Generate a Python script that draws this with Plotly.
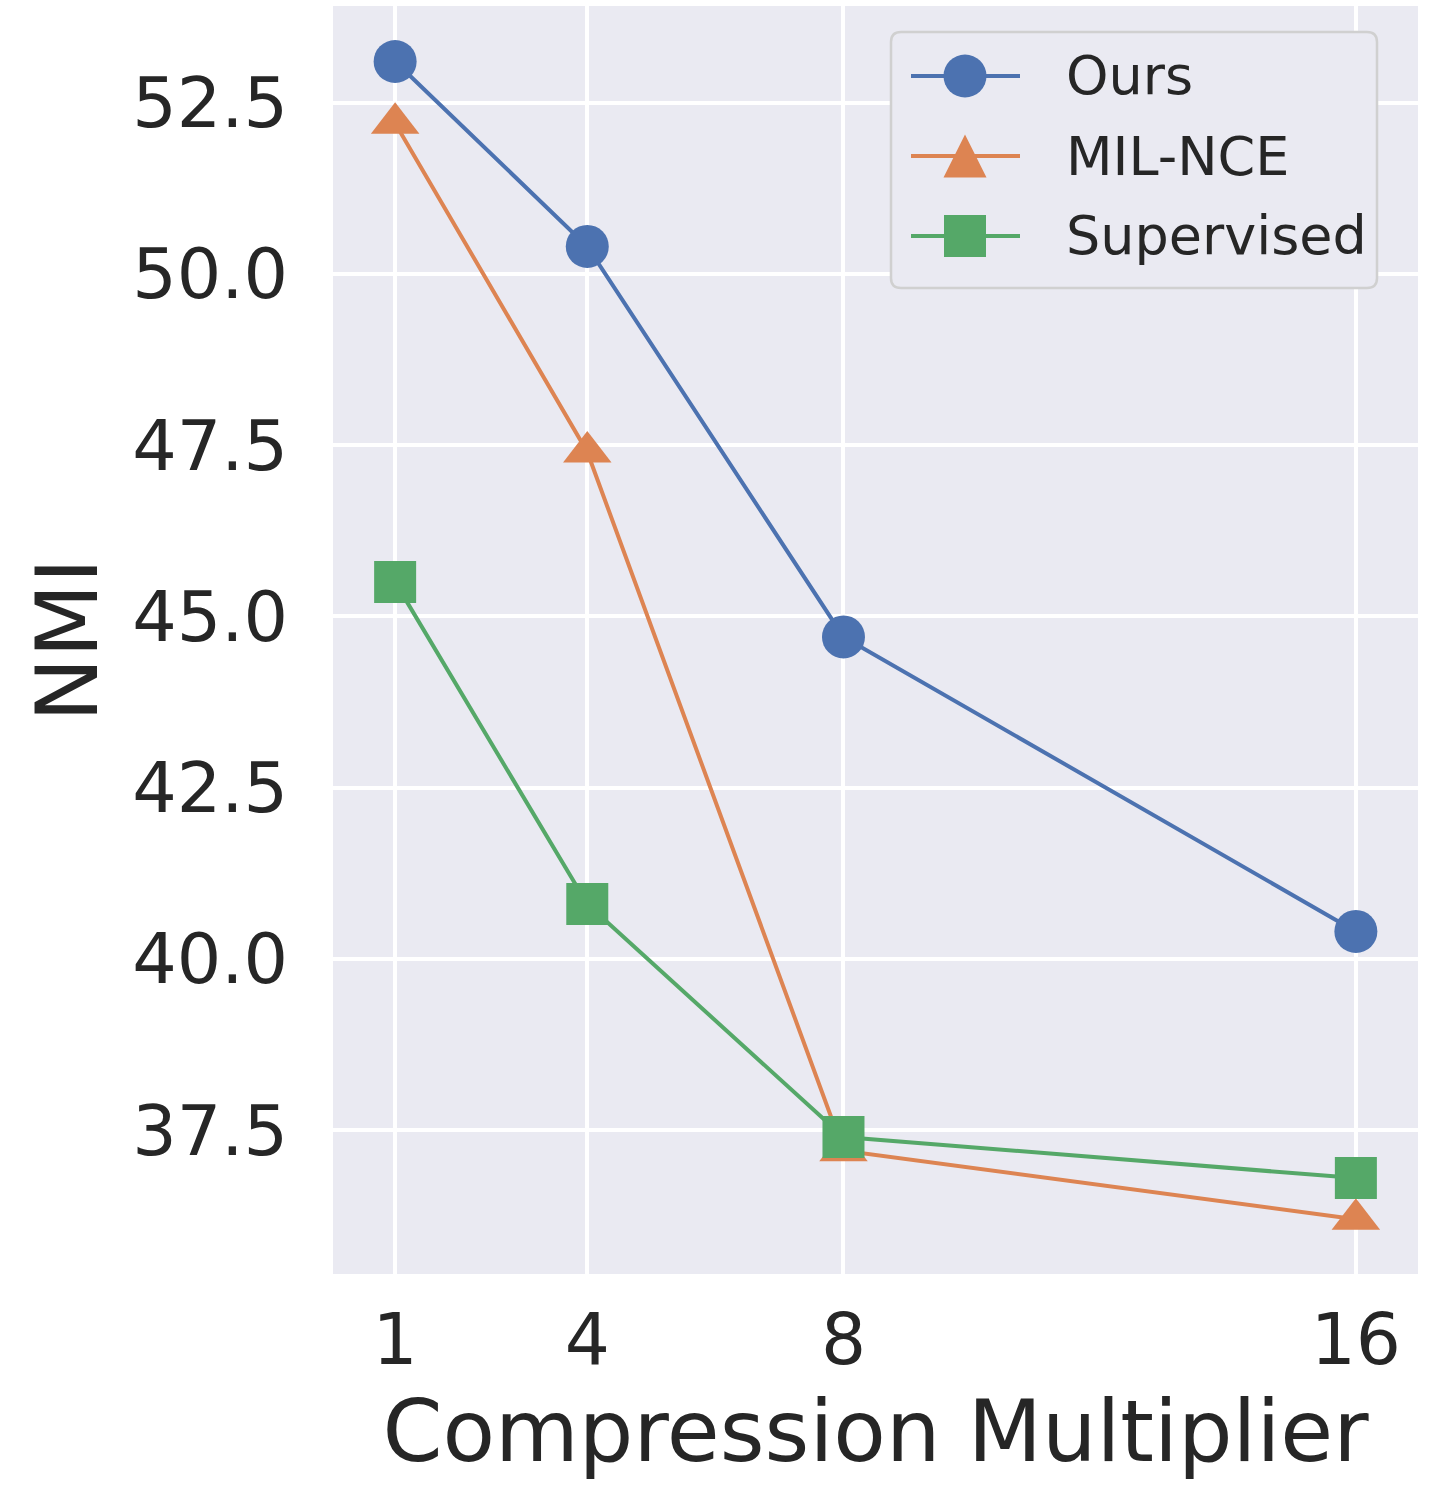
import plotly.graph_objects as go

# ---- data ----
multipliers = [1, 4, 8, 16]
series_names = ["Ours", "MIL-NCE", "Supervised"]
ours = [53.1, 50.4, 44.7, 40.4]
mil_nce = [52.2, 47.4, 37.2, 36.2]
supervised = [45.5, 40.8, 37.4, 36.8]
y_ticks = [37.5, 40.0, 42.5, 45.0, 47.5, 50.0, 52.5]
x_ticks = [1, 4, 8, 16]

# ---- style ----
colors = ["#4C72B0", "#DD8452", "#55A868"]
symbols = ["circle", "triangle-up", "square"]
msizes = [43, 42, 42]
TXT = "#262626"
BG = "#EAEAF2"
FONT = "DejaVu Sans"

W, H = 1435, 1498
L, R, T, B = 333, 1418, 6, 1274  # plot area in pixels

fig = go.Figure()
for name, vals, c, s, ms in zip(series_names, [ours, mil_nce, supervised], colors, symbols, msizes):
    fig.add_trace(go.Scatter(
        x=multipliers, y=vals, name=name, mode="lines+markers",
        line=dict(color=c, width=4),
        marker=dict(symbol=s, size=ms, color=c, line=dict(width=0)),
        showlegend=False,
    ))

# ---- custom legend (matplotlib-like) ----
def px_x(px):
    return (px - L) / (R - L)

def px_y(py):
    return (B - py) / (B - T)

shapes = []
annotations = []
x0, x1, y0, y1, rad = 891, 1377, 32, 288, 10
path = (f"M {px_x(x0 + rad)},{px_y(y0)} L {px_x(x1 - rad)},{px_y(y0)} "
        f"Q {px_x(x1)},{px_y(y0)} {px_x(x1)},{px_y(y0 + rad)} "
        f"L {px_x(x1)},{px_y(y1 - rad)} Q {px_x(x1)},{px_y(y1)} {px_x(x1 - rad)},{px_y(y1)} "
        f"L {px_x(x0 + rad)},{px_y(y1)} Q {px_x(x0)},{px_y(y1)} {px_x(x0)},{px_y(y1 - rad)} "
        f"L {px_x(x0)},{px_y(y0 + rad)} Q {px_x(x0)},{px_y(y0)} {px_x(x0 + rad)},{px_y(y0)} Z")
shapes.append(dict(type="path", path=path, xref="paper", yref="paper",
                   line=dict(color="#D0D0D0", width=2.5), fillcolor=BG, layer="above"))
row_y = [76, 156, 236]
for name, c, s, ry in zip(series_names, colors, symbols, row_y):
    yp = px_y(ry)
    shapes.append(dict(type="line", xref="paper", yref="paper",
                       x0=px_x(911), x1=px_x(1020), y0=yp, y1=yp,
                       line=dict(color=c, width=4), layer="above"))
    cx = px_x(965)
    if s == "circle":
        shapes.append(dict(type="circle", xref="paper", yref="paper", xsizemode="pixel", ysizemode="pixel",
                           xanchor=cx, yanchor=yp, x0=-21.5, x1=21.5, y0=-21.5, y1=21.5,
                           fillcolor=c, line=dict(width=0), layer="above"))
    elif s == "square":
        shapes.append(dict(type="rect", xref="paper", yref="paper", xsizemode="pixel", ysizemode="pixel",
                           xanchor=cx, yanchor=yp, x0=-21, x1=21, y0=-21, y1=21,
                           fillcolor=c, line=dict(width=0), layer="above"))
    else:
        shapes.append(dict(type="path", xref="paper", yref="paper", xsizemode="pixel", ysizemode="pixel",
                           xanchor=cx, yanchor=yp, path="M -21.5,-21.5 L 21.5,-21.5 L 0,21.5 Z",
                           fillcolor=c, line=dict(width=0), layer="above"))
    annotations.append(dict(text=name, xref="paper", yref="paper", x=px_x(1064), y=yp,
                            xanchor="left", yanchor="middle", showarrow=False,
                            font=dict(family=FONT, size=54, color=TXT)))

fig.update_layout(
    width=W, height=H,
    margin=dict(l=L, r=W - R, t=T, b=H - B, pad=0),
    paper_bgcolor="white", plot_bgcolor=BG,
    font=dict(family=FONT, color=TXT),
    shapes=shapes, annotations=annotations,
    showlegend=False,
)
fig.update_xaxes(
    range=[0.03, 16.97], tickvals=x_ticks, ticktext=[str(v) for v in x_ticks],
    showgrid=True, gridcolor="white", gridwidth=3.5, zeroline=False, showline=False,
    tickfont=dict(family=FONT, size=71, color=TXT), ticks="", ticklabelstandoff=18,
    title=dict(text="Compression Multiplier", font=dict(family=FONT, size=86, color=TXT), standoff=4),
)
fig.update_yaxes(
    range=[35.40, 53.91], tickvals=y_ticks, ticktext=[f"{v:.1f}" for v in y_ticks],
    showgrid=True, gridcolor="white", gridwidth=3.5, zeroline=False, showline=False,
    tickfont=dict(family=FONT, size=70, color=TXT), ticklabelstandoff=44, ticks="",
    title=dict(text="NMI", font=dict(family=FONT, size=86, color=TXT), standoff=6),
)

fig.write_html("out.html")
